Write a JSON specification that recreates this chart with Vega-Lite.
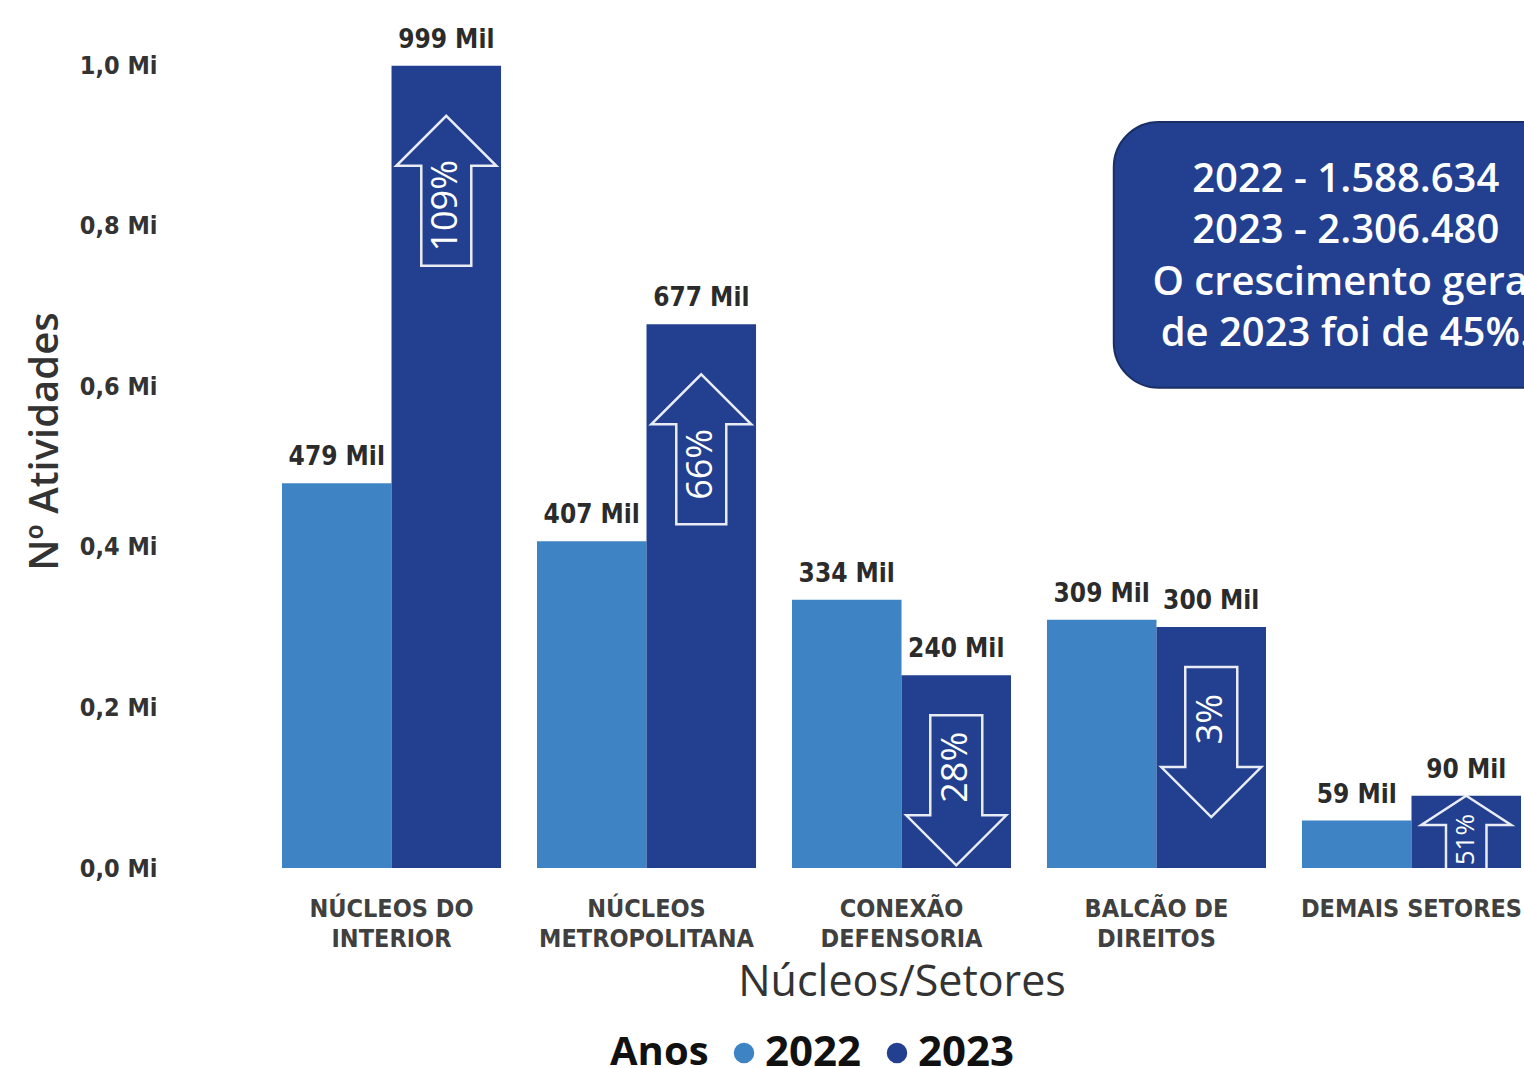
{
  "$schema": "https://vega.github.io/schema/vega-lite/v6.json",
  "autosize": "none",
  "width": 1239,
  "height": 803,
  "padding": {"left": 282, "top": 65, "right": 3, "bottom": 200},
  "background": "white",
  "config": {"view": {"stroke": null}, "font": "Open Sans"},
  "datasets": {
    "bars": [
      {"setor": "NÚCLEOS DO INTERIOR", "ano": "2022", "valor": 479000, "rotulo": "479 Mil"},
      {"setor": "NÚCLEOS DO INTERIOR", "ano": "2023", "valor": 999000, "rotulo": "999 Mil"},
      {"setor": "NÚCLEOS METROPOLITANA", "ano": "2022", "valor": 407000, "rotulo": "407 Mil"},
      {"setor": "NÚCLEOS METROPOLITANA", "ano": "2023", "valor": 677000, "rotulo": "677 Mil"},
      {"setor": "CONEXÃO DEFENSORIA", "ano": "2022", "valor": 334000, "rotulo": "334 Mil"},
      {"setor": "CONEXÃO DEFENSORIA", "ano": "2023", "valor": 240000, "rotulo": "240 Mil"},
      {"setor": "BALCÃO DE DIREITOS", "ano": "2022", "valor": 309000, "rotulo": "309 Mil"},
      {"setor": "BALCÃO DE DIREITOS", "ano": "2023", "valor": 300000, "rotulo": "300 Mil"},
      {"setor": "DEMAIS SETORES", "ano": "2022", "valor": 59000, "rotulo": "59 Mil"},
      {"setor": "DEMAIS SETORES", "ano": "2023", "valor": 90000, "rotulo": "90 Mil"}
    ],
    "arrows": [
      {"setor": "NÚCLEOS DO INTERIOR", "ano": "2023", "valor": 999000, "pct": "109%", "dir": "up"},
      {"setor": "NÚCLEOS METROPOLITANA", "ano": "2023", "valor": 677000, "pct": "66%", "dir": "up"},
      {"setor": "CONEXÃO DEFENSORIA", "ano": "2023", "valor": 240000, "pct": "28%", "dir": "down"},
      {"setor": "BALCÃO DE DIREITOS", "ano": "2023", "valor": 300000, "pct": "3%", "dir": "down"},
      {"setor": "DEMAIS SETORES", "ano": "2023", "valor": 90000, "pct": "51%", "dir": "up"}
    ],
    "info": [
      {"setor0": "BALCÃO DE DIREITOS", "setor1": "DEMAIS SETORES", "lo": 598000, "hi": 929000, "linha1": 857000,
       "texto": ["2022 - 1.588.634", "2023 - 2.306.480", "O crescimento geral", "de 2023 foi de 45%."]}
    ]
  },
  "layer": [
    {
      "data": {"name": "bars"},
      "mark": {"type": "bar"},
      "encoding": {
        "x": {
          "field": "setor", "type": "nominal", "sort": null,
          "scale": {"domain": ["NÚCLEOS DO INTERIOR", "NÚCLEOS METROPOLITANA", "CONEXÃO DEFENSORIA", "BALCÃO DE DIREITOS", "DEMAIS SETORES"], "paddingInner": 0.141, "paddingOuter": 0},
          "axis": {
            "title": "Núcleos/Setores",
            "titleFont": "Open Sans", "titleFontSize": 43, "titleFontWeight": "normal", "titleColor": "#333333",
            "titleBaseline": "middle", "titleY": 114,
            "labelAngle": 0, "labelFont": "DejaVu Sans Condensed", "labelFontSize": 25, "labelFontWeight": "bold",
            "labelColor": "#404040", "labelBaseline": "top", "labelPadding": 28, "labelLineHeight": 30, "labelLimit": 0,
            "labelExpr": "datum.label == 'DEMAIS SETORES' ? datum.label : [substring(datum.label, 0, lastindexof(datum.label, ' ')), substring(datum.label, lastindexof(datum.label, ' ') + 1)]",
            "ticks": false, "domain": false, "grid": false
          }
        },
        "xOffset": {"field": "ano", "type": "nominal", "scale": {"domain": ["2022", "2023"], "paddingInner": 0, "paddingOuter": 0}},
        "y": {
          "field": "valor", "type": "quantitative",
          "scale": {"domain": [0, 1000000], "nice": false},
          "axis": {
            "title": "Nº Atividades",
            "titleFont": "Open Sans", "titleFontSize": 40, "titleFontWeight": 600, "titleColor": "#333333",
            "titleAngle": 270, "titleX": -237, "titleY": 376, "titleAlign": "center", "titleBaseline": "middle",
            "values": [0, 200000, 400000, 600000, 800000, 1000000],
            "labelExpr": "replace(format(datum.value / 1000000, '.1f'), '.', ',') + ' Mi'",
            "labelFont": "DejaVu Sans Condensed", "labelFontSize": 25, "labelFontWeight": "bold", "labelColor": "#333333",
            "labelPadding": 125, "ticks": false, "domain": false, "grid": false
          }
        },
        "color": {
          "field": "ano", "type": "nominal",
          "scale": {"domain": ["2022", "2023"], "range": ["#3e84c5", "#22408f"]},
          "legend": {
            "title": "Anos", "orient": "none", "legendX": 328, "legendY": 967, "direction": "horizontal",
            "titleOrient": "left", "titleFont": "Open Sans", "titleFontSize": 40, "titleFontWeight": "bold", "titleColor": "#111111",
            "titlePadding": 14, "titleBaseline": "middle",
            "labelFont": "Open Sans", "labelFontSize": 42, "labelFontWeight": "bold", "labelColor": "#111111",
            "symbolType": "circle", "symbolSize": 420, "symbolStrokeWidth": 0, "labelOffset": 0, "columnPadding": 14
          }
        }
      }
    },
    {
      "data": {"name": "bars"},
      "mark": {"type": "text", "baseline": "alphabetic", "dy": -18, "font": "DejaVu Sans Condensed", "fontSize": 26, "fontWeight": "bold", "color": "#2b2b2b"},
      "encoding": {
        "x": {"field": "setor", "type": "nominal", "sort": null},
        "xOffset": {"field": "ano", "type": "nominal"},
        "y": {"field": "valor", "type": "quantitative"},
        "text": {"field": "rotulo"}
      }
    },
    {
      "data": {"name": "arrows"},
      "transform": [{"filter": "datum.valor >= 150000"}],
      "mark": {"type": "point", "filled": false, "stroke": "white", "strokeWidth": 2.5, "opacity": 0.9, "size": 10000},
      "encoding": {
        "x": {"field": "setor", "type": "nominal", "sort": null},
        "xOffset": {"field": "ano", "type": "nominal"},
        "y": {"field": "valor", "type": "quantitative"},
        "shape": {
          "field": "dir", "type": "nominal", "legend": null,
          "scale": {"domain": ["up", "down"], "range": [
            "M0,1 L1,2 L0.5,2 L0.5,4 L-0.5,4 L-0.5,2 L-1,2 Z",
            "M-0.52,0.8 L0.52,0.8 L0.52,2.8 L1,2.8 L0,3.8 L-1,2.8 L-0.52,2.8 Z"
          ]}
        }
      }
    },
    {
      "data": {"name": "arrows"},
      "transform": [{"filter": "datum.valor < 150000"}],
      "mark": {"type": "point", "filled": false, "stroke": "white", "strokeWidth": 2.5, "opacity": 0.9, "size": 8100, "clip": true,
               "shape": "M0,0 L1,0.65 L0.45,0.65 L0.45,3 L-0.45,3 L-0.45,0.65 L-1,0.65 Z"},
      "encoding": {
        "x": {"field": "setor", "type": "nominal", "sort": null},
        "xOffset": {"field": "ano", "type": "nominal"},
        "y": {"field": "valor", "type": "quantitative"}
      }
    },
    {
      "data": {"name": "arrows"},
      "transform": [{"filter": "datum.dir == 'up' && datum.valor >= 150000"}],
      "mark": {"type": "text", "angle": 270, "align": "center", "baseline": "middle", "dx": -140, "font": "Open Sans", "fontSize": 36, "color": "white"},
      "encoding": {
        "x": {"field": "setor", "type": "nominal", "sort": null},
        "xOffset": {"field": "ano", "type": "nominal"},
        "y": {"field": "valor", "type": "quantitative"},
        "text": {"field": "pct"}
      }
    },
    {
      "data": {"name": "arrows"},
      "transform": [{"filter": "datum.dir == 'down'"}],
      "mark": {"type": "text", "angle": 270, "align": "center", "baseline": "middle", "dx": -92, "font": "Open Sans", "fontSize": 36, "color": "white"},
      "encoding": {
        "x": {"field": "setor", "type": "nominal", "sort": null},
        "xOffset": {"field": "ano", "type": "nominal"},
        "y": {"field": "valor", "type": "quantitative"},
        "text": {"field": "pct"}
      }
    },
    {
      "data": {"name": "arrows"},
      "transform": [{"filter": "datum.valor < 150000"}],
      "mark": {"type": "text", "angle": 270, "align": "center", "baseline": "middle", "dx": -44, "font": "Open Sans", "fontSize": 26, "color": "white"},
      "encoding": {
        "x": {"field": "setor", "type": "nominal", "sort": null},
        "xOffset": {"field": "ano", "type": "nominal"},
        "y": {"field": "valor", "type": "quantitative"},
        "text": {"field": "pct"}
      }
    },
    {
      "data": {"name": "info"},
      "mark": {"type": "rect", "color": "#22408f", "stroke": "#1a2f66", "strokeWidth": 2, "cornerRadius": 45},
      "encoding": {
        "x": {"field": "setor0", "type": "nominal", "bandPosition": 0.305},
        "x2": {"field": "setor1", "bandPosition": 1.4},
        "y": {"field": "hi", "type": "quantitative"},
        "y2": {"field": "lo"}
      }
    },
    {
      "data": {"name": "info"},
      "mark": {"type": "text", "align": "center", "baseline": "middle", "font": "Open Sans", "fontSize": 40, "fontWeight": 600, "lineHeight": 51.5, "color": "white"},
      "encoding": {
        "x": {"field": "setor1", "type": "nominal", "bandPosition": 0.2},
        "y": {"field": "linha1", "type": "quantitative"},
        "text": {"field": "texto"}
      }
    }
  ]
}
